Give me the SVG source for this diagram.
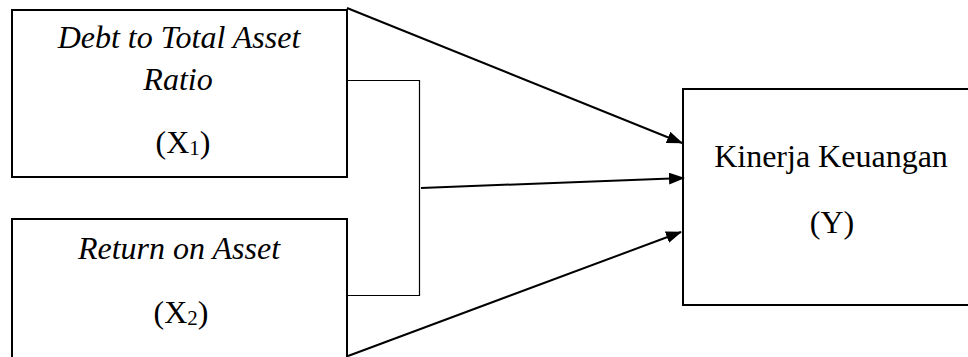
<svg xmlns="http://www.w3.org/2000/svg" width="968" height="357" viewBox="0 0 968 357">
<style>
.box{fill:#fff;stroke:#000;stroke-width:2}
.arr{fill:none;stroke:#000;stroke-width:2;marker-end:url(#ah)}
.thin{fill:none;stroke:#000;stroke-width:1.2}
</style>
<defs>
<marker id="ah" markerWidth="16" markerHeight="12" refX="15" refY="6" orient="auto" markerUnits="userSpaceOnUse">
<path d="M0,0 L16,6 L0,12 Z" fill="#000"/>
</marker>
</defs>
<rect width="968" height="357" fill="#fff"/>
<g font-family="'Liberation Serif', 'Times New Roman', serif" font-size="32" fill="#000" text-anchor="middle">
<g id="x1">
<rect class="box" x="12" y="10" width="335" height="167"/>
<text font-style="italic" x="179" y="48">Debt to Total Asset</text>
<text font-style="italic" x="178" y="90">Ratio</text>
<text x="183" y="153">(X<tspan font-size="21" dy="2">1</tspan><tspan dy="-2">)</tspan></text>
</g>
<g id="x2">
<rect class="box" x="12" y="219" width="335" height="150"/>
<text font-style="italic" x="179" y="259">Return on Asset</text>
<text x="181" y="323">(X<tspan font-size="21" dy="2">2</tspan><tspan dy="-2">)</tspan></text>
</g>
<g id="y">
<rect class="box" x="683" y="89" width="300" height="216"/>
<text x="831" y="167">Kinerja Keuangan</text>
<text x="832" y="233">(Y)</text>
</g>
</g>
<g id="connectors">
<polyline class="thin" points="347,80.5 419.5,80.5 419.5,295.5 347,295.5"/>
<line class="arr" x1="347" y1="8" x2="682" y2="143"/>
<line class="arr" x1="421" y1="188" x2="684" y2="178"/>
<line class="arr" x1="348" y1="356" x2="681" y2="232"/>
</g>
</svg>
